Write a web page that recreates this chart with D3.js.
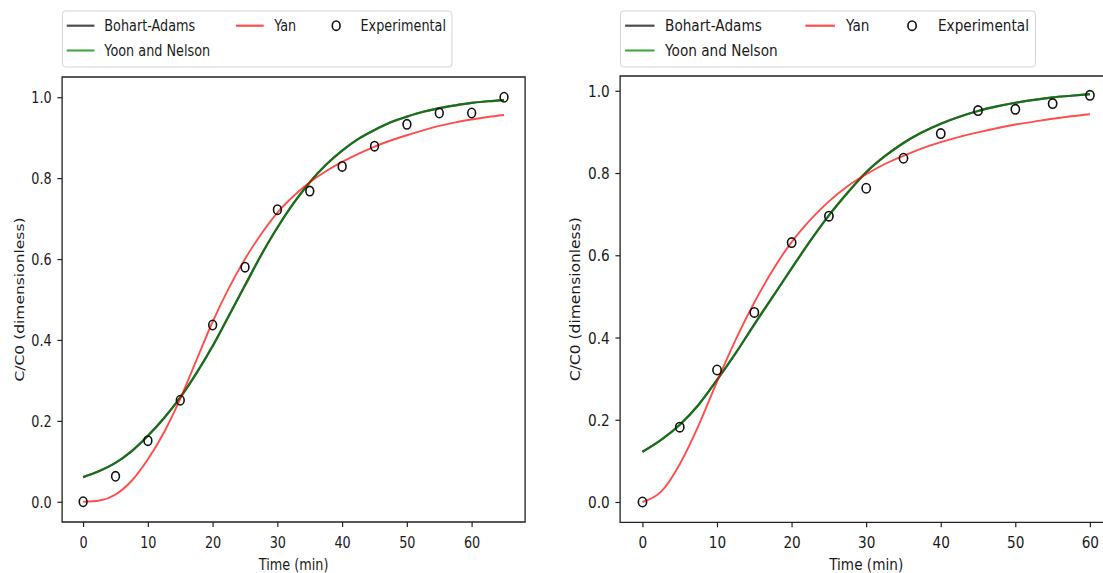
<!DOCTYPE html>
<html>
<head>
<meta charset="utf-8">
<script src="https://cdn.jsdelivr.net/npm/d3@7"></script>
<style>
  html, body { margin: 0; padding: 0; background: #ffffff; }
  svg { display: block; }
  text { font-family: "DejaVu Sans", sans-serif; }
</style>
</head>
<body>
<svg id="chart" width="1103" height="573"></svg>
<script>
// ---- Run A (left panel) ----
const expTimesA  = [0, 5, 10, 15, 20, 25, 30, 35, 40, 45, 50, 55, 60, 65];
const expValuesA = [0.000, 0.063, 0.151, 0.251, 0.437, 0.580, 0.722, 0.768, 0.829, 0.879, 0.933, 0.961, 0.961, 1.000];

const modelTimesA  = [0, 2.5, 5, 7.5, 10, 12.5, 15, 17.5, 20, 22.5, 25, 27.5, 30, 32.5, 35, 37.5, 40, 42.5, 45, 47.5, 50, 52.5, 55, 57.5, 60, 62.5, 65];
const bohartAdamsA = [0.061, 0.076, 0.096, 0.125, 0.163, 0.207, 0.258, 0.318, 0.385, 0.460, 0.535, 0.610, 0.678, 0.738, 0.790, 0.833, 0.868, 0.897, 0.919, 0.938, 0.952, 0.964, 0.973, 0.980, 0.986, 0.990, 0.993];
const yoonNelsonA  = [0.061, 0.076, 0.096, 0.125, 0.163, 0.207, 0.258, 0.318, 0.385, 0.460, 0.535, 0.610, 0.678, 0.738, 0.790, 0.833, 0.868, 0.897, 0.919, 0.938, 0.952, 0.964, 0.973, 0.980, 0.986, 0.990, 0.993];
const yanA         = [0.000, 0.003, 0.018, 0.052, 0.105, 0.172, 0.255, 0.350, 0.445, 0.528, 0.600, 0.662, 0.715, 0.756, 0.790, 0.817, 0.840, 0.860, 0.878, 0.893, 0.906, 0.918, 0.929, 0.938, 0.945, 0.951, 0.956];

// ---- Run B (right panel) ----
const expTimesB  = [0, 5, 10, 15, 20, 25, 30, 35, 40, 45, 50, 55, 60];
const expValuesB = [0.000, 0.182, 0.321, 0.461, 0.631, 0.695, 0.763, 0.836, 0.896, 0.952, 0.955, 0.969, 0.989];

const modelTimesB  = [0, 2.5, 5, 7.5, 10, 12.5, 15, 17.5, 20, 22.5, 25, 27.5, 30, 32.5, 35, 37.5, 40, 42.5, 45, 47.5, 50, 52.5, 55, 57.5, 60];
const bohartAdamsB = [0.122, 0.151, 0.188, 0.236, 0.297, 0.362, 0.432, 0.500, 0.568, 0.635, 0.697, 0.752, 0.802, 0.841, 0.873, 0.899, 0.920, 0.937, 0.951, 0.962, 0.971, 0.978, 0.984, 0.988, 0.992];
const yoonNelsonB  = [0.122, 0.151, 0.188, 0.236, 0.297, 0.362, 0.432, 0.500, 0.568, 0.635, 0.697, 0.752, 0.802, 0.841, 0.873, 0.899, 0.920, 0.937, 0.951, 0.962, 0.971, 0.978, 0.984, 0.988, 0.992];
const yanB         = [0.000, 0.025, 0.092, 0.185, 0.293, 0.395, 0.485, 0.565, 0.632, 0.686, 0.731, 0.768, 0.797, 0.822, 0.842, 0.860, 0.875, 0.888, 0.899, 0.909, 0.918, 0.925, 0.932, 0.938, 0.943];

// ---- Ticks and labels ----
const xTickValues = [0, 10, 20, 30, 40, 50, 60];
const yTickValues = [0.0, 0.2, 0.4, 0.6, 0.8, 1.0];
const seriesNames = ["Bohart-Adams", "Yoon and Nelson", "Yan", "Experimental"];
const xAxisTitle = "Time (min)";
const yAxisTitle = "C/C0 (dimensionless)";

const FONT = 15.5;
const INK = "#1a1a1a";
const svg = d3.select("#chart");

function drawPanel(cfg) {
  const sx = cfg.sx;
  // Each panel is laid out in its own horizontally compressed frame.
  const g = svg.append("g").attr("transform", `scale(${sx},1)`);
  const L = cfg.left / sx, R = cfg.right / sx;
  const x = d3.scaleLinear().domain(cfg.xDomain).range([L, R]);
  const y = d3.scaleLinear().domain(cfg.yDomain).range([cfg.bottom, cfg.top]);

  const lineGen = times => d3.line()
    .x((d, i) => x(times[i]))
    .y(d => y(d))
    .curve(d3.curveMonotoneX);

  const curves = [
    { vals: cfg.bohart, color: "#000000", width: 2.2 },
    { vals: cfg.yoon,   color: "#008000", width: 2.2 },
    { vals: cfg.yan,    color: "#ff0000", width: 1.9 }
  ];
  curves.forEach(c => {
    g.append("path")
      .attr("d", lineGen(cfg.modelTimes)(c.vals))
      .attr("fill", "none")
      .attr("stroke", c.color)
      .attr("stroke-opacity", 0.7)
      .attr("stroke-width", c.width)
      .attr("vector-effect", "non-scaling-stroke");
  });

  // Experimental points (open circles)
  g.append("g").selectAll("circle")
    .data(cfg.expValues)
    .join("circle")
    .attr("cx", (d, i) => x(cfg.expTimes[i]))
    .attr("cy", d => y(d))
    .attr("r", 4.7)
    .attr("fill", "none")
    .attr("stroke", "#111")
    .attr("stroke-width", 1.6)
    .attr("vector-effect", "non-scaling-stroke");

  // Axes frame
  g.append("rect")
    .attr("x", L).attr("y", cfg.top)
    .attr("width", R - L).attr("height", cfg.bottom - cfg.top)
    .attr("fill", "none")
    .attr("stroke", "#222")
    .attr("stroke-width", 1.3)
    .attr("vector-effect", "non-scaling-stroke");

  // X axis
  const gx = g.append("g")
    .attr("transform", `translate(0,${cfg.bottom})`)
    .call(d3.axisBottom(x).tickValues(cfg.xTicks).tickFormat(d3.format("d")).tickSize(5).tickSizeOuter(0));
  gx.select(".domain").remove();
  gx.selectAll(".tick line").attr("stroke", "#222").attr("stroke-width", 1.2).attr("vector-effect", "non-scaling-stroke");
  gx.selectAll(".tick text")
    .attr("y", 25.7).attr("dy", null)
    .attr("fill", INK)
    .style("font-size", FONT + "px")
    .style("font-family", "'DejaVu Sans', sans-serif");

  // Y axis
  const gy = g.append("g")
    .attr("transform", `translate(${L},0)`)
    .call(d3.axisLeft(y).tickValues(yTickValues).tickFormat(d3.format(".1f")).tickSize(4.7 / sx).tickSizeOuter(0));
  gy.select(".domain").remove();
  gy.selectAll(".tick line").attr("stroke", "#222").attr("stroke-width", 1.2).attr("vector-effect", "non-scaling-stroke");
  gy.selectAll(".tick text")
    .attr("x", -10.4 / sx).attr("dy", "0.36em")
    .attr("fill", INK)
    .style("font-size", FONT + "px")
    .style("font-family", "'DejaVu Sans', sans-serif");

  // Axis titles
  g.append("text")
    .attr("x", (L + R) / 2).attr("y", 570)
    .attr("text-anchor", "middle")
    .attr("fill", INK)
    .style("font-size", FONT + "px")
    .text(xAxisTitle);

  g.append("text")
    .attr("transform", `translate(${cfg.yTitleX / sx},${(cfg.top + cfg.bottom) / 2}) rotate(-90)`)
    .attr("text-anchor", "middle")
    .attr("fill", INK)
    .style("font-size", FONT + "px")
    .text(yAxisTitle);

  // Legend (3 columns, filled column-wise)
  const lg = g.append("g").attr("transform", `translate(${L},0)`);
  lg.append("rect")
    .attr("x", 0.4).attr("y", 11)
    .attr("width", 471).attr("height", 56)
    .attr("rx", 3.5).attr("ry", 3.5)
    .attr("fill", "#ffffff").attr("fill-opacity", 0.8)
    .attr("stroke", "#d4d4d4").attr("stroke-width", 1)
    .attr("vector-effect", "non-scaling-stroke");

  const rows = [25.7, 50.5];
  const items = [
    { name: seriesNames[0], kind: "line", color: "#000000", hx: 5.6,   tx: 51,    row: 0 },
    { name: seriesNames[1], kind: "line", color: "#008000", hx: 5.6,   tx: 51,    row: 1 },
    { name: seriesNames[2], kind: "line", color: "#ff0000", hx: 210.3, tx: 256.4, row: 0 },
    { name: seriesNames[3], kind: "dot",  color: "#111",    hx: 331.4, tx: 360.8, row: 0 }
  ];
  items.forEach(it => {
    const yy = rows[it.row];
    if (it.kind === "line") {
      lg.append("line")
        .attr("x1", it.hx).attr("x2", it.hx + 33.5)
        .attr("y1", yy).attr("y2", yy)
        .attr("stroke", it.color).attr("stroke-opacity", 0.7)
        .attr("stroke-width", 2.2)
        .attr("vector-effect", "non-scaling-stroke");
    } else {
      lg.append("circle")
        .attr("cx", it.hx).attr("cy", yy).attr("r", 4.7)
        .attr("fill", "none").attr("stroke", it.color)
        .attr("stroke-width", 1.6)
        .attr("vector-effect", "non-scaling-stroke");
    }
    lg.append("text")
      .attr("x", it.tx).attr("y", yy + 5.5)
      .attr("fill", INK)
      .style("font-size", FONT + "px")
      .text(it.name);
  });
}

drawPanel({
  sx: 0.827,
  left: 62.1, right: 525.1, top: 77, bottom: 522,
  xDomain: [-3.25, 68.25], yDomain: [-0.05, 1.05],
  xTicks: xTickValues, yTitleX: 24,
  expTimes: expTimesA, expValues: expValuesA,
  modelTimes: modelTimesA, bohart: bohartAdamsA, yoon: yoonNelsonA, yan: yanA
});

drawPanel({
  sx: 0.881,
  left: 620.1, right: 1112.3, top: 76, bottom: 522.3,
  xDomain: [-3, 63], yDomain: [-0.0494, 1.036],
  xTicks: xTickValues, yTitleX: 579.5,
  expTimes: expTimesB, expValues: expValuesB,
  modelTimes: modelTimesB, bohart: bohartAdamsB, yoon: yoonNelsonB, yan: yanB
});
</script>
</body>
</html>
